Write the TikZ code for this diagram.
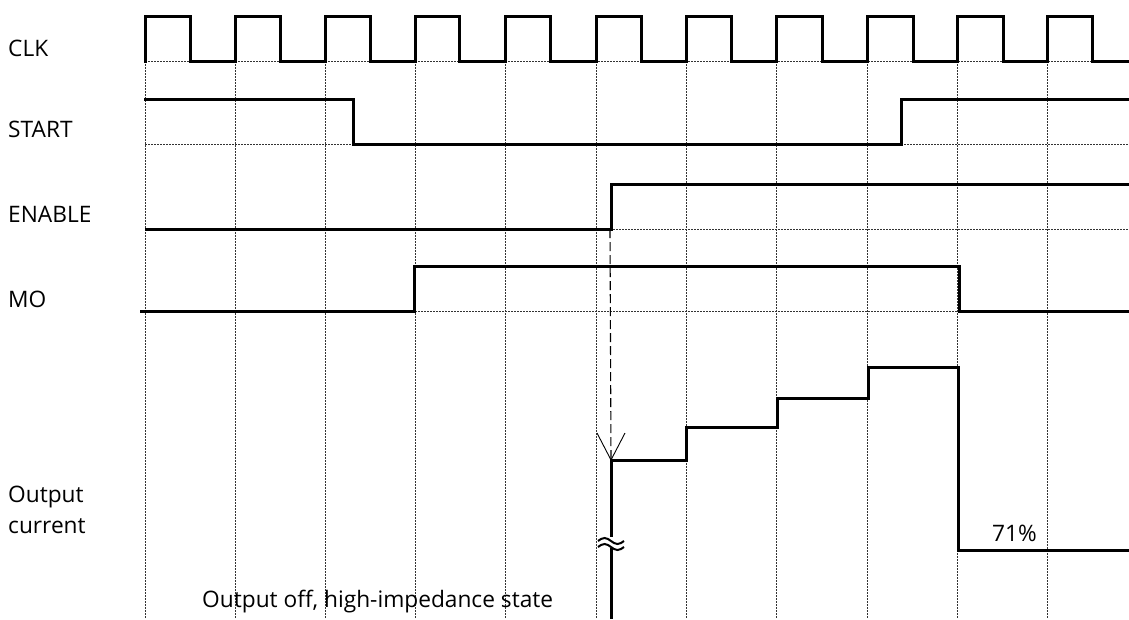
\documentclass[tikz,border=0pt]{standalone}
\usepackage{fontspec}
\setmainfont{Open Sans}
\begin{document}
\begin{tikzpicture}[x=1pt,y=-1pt,
  sig/.style={line width=3pt,line join=miter,line cap=rect},
  gridline/.style={line width=0.8pt,dash pattern=on 1.5pt off 1.5pt,black!80},
  lbl/.style={font=\fontsize{22.7}{31}\selectfont,inner sep=0pt,anchor=base west},
  enarrow/.style={line width=1.1pt,dash pattern=on 9pt off 4pt},
  barb/.style={line width=0.9pt}]
\useasboundingbox (0,0) rectangle (1129,619);
% grid
\foreach \y in {61,144,229,311} \draw[gridline] (145,\y) -- (1129,\y);
\foreach \x in {145,235,325,415,505,596,686,776,867,957,1047} \draw[gridline] (\x,61) -- (\x,619);
% labels
\node[lbl] (clk) at (8,56.5) {CLK};
\node[lbl] (start) at (8,137) {START};
\node[lbl] (enable) at (8,222) {ENABLE};
\node[lbl] (mo) at (8,307) {MO};
\node[lbl,align=left,anchor=north west] (oc) at (8,486) {Output\\current};
\node[lbl] (off) at (202,607) {Output off, high-impedance state};
\node[lbl] (pct) at (992,541) {71\%};
% CLK
\draw[sig] (145,61)
  \foreach \r/\f in {145/190,235/280,325/370,415/459,505/550,596/641,686/731,776/822,867/913,957/1003,1047/1092}
  { -- (\r,61) -- (\r,16) -- (\f,16) -- (\f,61) } -- (1129,61);
% START
\draw[sig] (145,99) -- (353,99) -- (353,144) -- (901,144) -- (901,99) -- (1129,99);
% ENABLE
\draw[sig] (146,229) -- (611,229) -- (611,184) -- (1129,184);
% MO
\draw[sig] (141,311) -- (414,311) -- (414,266) -- (959,266) -- (959,311) -- (1129,311);
% output current
\coordinate (enrise) at (610,229);
\coordinate (tip) at (611,460);
\draw[sig] (tip) -- (686,460) -- (686,427) -- (777,427) -- (777,398) -- (868,398) -- (868,367) -- (958,367) -- (958,550) -- (1129,550);
\coordinate (brk1) at (611,537);
\coordinate (brk2) at (611,548);
\coordinate (bot) at (611,619);
\draw[sig,line cap=butt] (tip) -- (brk1);
\draw[sig,line cap=butt] (brk2) -- (bot);
\draw[line width=2pt] (598,541) sin (604.5,538) cos (611,541) sin (617.5,544) cos (624,541);
\draw[line width=2pt] (598,547) sin (604.5,544) cos (611,547) sin (617.5,550) cos (624,547);
% dashed arrow
\draw[enarrow] (enrise) -- (tip);
\draw[barb] (597,433) -- (tip) -- (625,433);
\end{tikzpicture}
\end{document}
